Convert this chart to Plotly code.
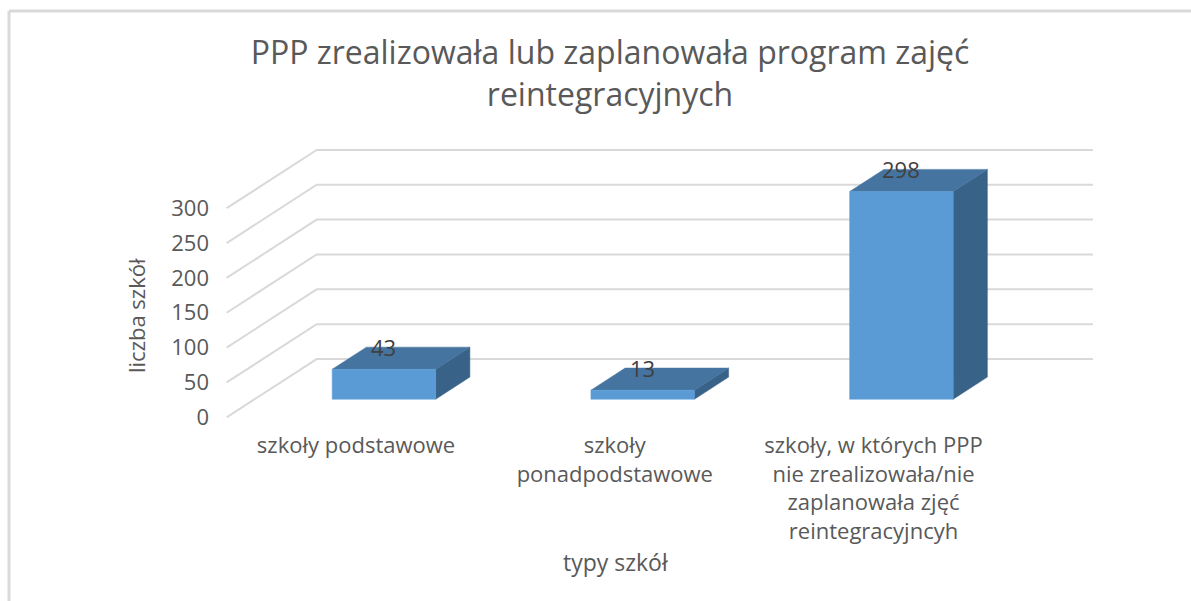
import plotly.graph_objects as go

# ---- data ----
categories = [
    "szkoły podstawowe",
    "szkoły<br>ponadpodstawowe",
    "szkoły, w których PPP<br>nie zrealizowała/nie<br>zaplanowała zjęć<br>reintegracyjncyh",
]
values = [43, 13, 298]
tick_vals = [0, 50, 100, 150, 200, 250, 300]
tick_text = ["0", "50", "100", "150", "200", "250", "300"]

title_text = "PPP zrealizowała lub zaplanowała program zajęć<br>reintegracyjnych"
x_title = "typy szkół"
y_title = "liczba szkół"

# ---- 3D oblique projection parameters (in axis units) ----
DX = 0.348      # depth shift along x (category units)
DY = 83.6       # depth shift along y (value units)
BAR_W = 0.40    # bar width (fraction of category band)
D0, D1 = 0.31, 0.69  # bar front / back depth fraction

FRONT = "#5B9BD5"
TOP = "#44749F"
SIDE = "#386288"
GRID = "#D9D9D9"
TEXT = "#595959"
FONT = "Open Sans"

fig = go.Figure()

n = len(categories)
# gridlines: left wall diagonals + back wall horizontals
for tv in tick_vals:
    fig.add_trace(go.Scatter(
        x=[-0.5, -0.5 + DX, n - 0.5 + DX],
        y=[tv, tv + DY, tv + DY],
        mode="lines", line=dict(color=GRID, width=2),
        hoverinfo="skip", showlegend=False))

# bars
for i, v in enumerate(values):
    xl = i - BAR_W / 2
    xr = i + BAR_W / 2
    f = (D0 * DX, D0 * DY)
    b = (D1 * DX, D1 * DY)
    # right side
    fig.add_trace(go.Scatter(
        x=[xr + f[0], xr + f[0], xr + b[0], xr + b[0], xr + f[0]],
        y=[f[1], v + f[1], v + b[1], b[1], f[1]],
        fill="toself", fillcolor=SIDE, mode="lines",
        line=dict(color=SIDE, width=0.5), hoverinfo="skip", showlegend=False))
    # top
    fig.add_trace(go.Scatter(
        x=[xl + f[0], xr + f[0], xr + b[0], xl + b[0], xl + f[0]],
        y=[v + f[1], v + f[1], v + b[1], v + b[1], v + f[1]],
        fill="toself", fillcolor=TOP, mode="lines",
        line=dict(color=TOP, width=0.5), hoverinfo="skip", showlegend=False))
    # front
    fig.add_trace(go.Scatter(
        x=[xl + f[0], xr + f[0], xr + f[0], xl + f[0], xl + f[0]],
        y=[f[1], f[1], v + f[1], v + f[1], f[1]],
        fill="toself", fillcolor=FRONT, mode="lines",
        line=dict(color=FRONT, width=0.5), hoverinfo="skip", showlegend=False))
    # data label
    fig.add_annotation(
        x=i + D0 * DX, y=v + D1 * DY, text=str(v), showarrow=False,
        xanchor="center", yanchor="middle",
        font=dict(family=FONT, size=22, color="#404040"))

W, H = 1191, 601
L, R, T, B = 210, 81, 135, 171
PW, PH = W - L - R, H - T - B

def px_x(p):
    return (p - L) / PW

def px_y(p):
    return (H - B - p) / PH

# axis titles
fig.add_annotation(xref="paper", yref="paper", x=px_x(136), y=px_y(316),
                   text=y_title, textangle=-90, showarrow=False,
                   xanchor="center", yanchor="middle",
                   font=dict(family=FONT, size=22, color=TEXT))
fig.add_annotation(xref="paper", yref="paper", x=px_x(616), y=px_y(562),
                   text=x_title, showarrow=False,
                   xanchor="center", yanchor="middle",
                   font=dict(family=FONT, size=23, color=TEXT))

fig.update_layout(
    width=W, height=H,
    margin=dict(l=L, r=R, t=T, b=B),
    paper_bgcolor="white", plot_bgcolor="white",
    title=dict(text=title_text, x=610 / W, xanchor="center",
               y=1 - 64 / H, yanchor="top",
               font=dict(family=FONT, size=32, color=TEXT)),
    xaxis=dict(range=[-0.5643, 2.914], tickvals=list(range(n)),
               ticktext=categories, showgrid=False, zeroline=False,
               showline=False, ticks="", automargin=False,
               tickfont=dict(family=FONT, size=22, color=TEXT)),
    yaxis=dict(range=[-18.2, 405], tickvals=tick_vals, ticktext=tick_text,
               showgrid=False, zeroline=False, showline=False, ticks="",
               automargin=False,
               tickfont=dict(family=FONT, size=22, color=TEXT)),
    shapes=[
        dict(type="line", xref="paper", yref="paper",
             x0=px_x(9), x1=px_x(W), y0=px_y(11), y1=px_y(11),
             line=dict(color="#D9D9D9", width=3)),
        dict(type="line", xref="paper", yref="paper",
             x0=px_x(9), x1=px_x(9), y0=px_y(11), y1=px_y(H),
             line=dict(color="#D9D9D9", width=3)),
    ],
)

fig.write_html("out.html",
               config={"displayModeBar": False},
               post_script="document.body.style.margin='0';document.body.style.overflow='hidden';")
